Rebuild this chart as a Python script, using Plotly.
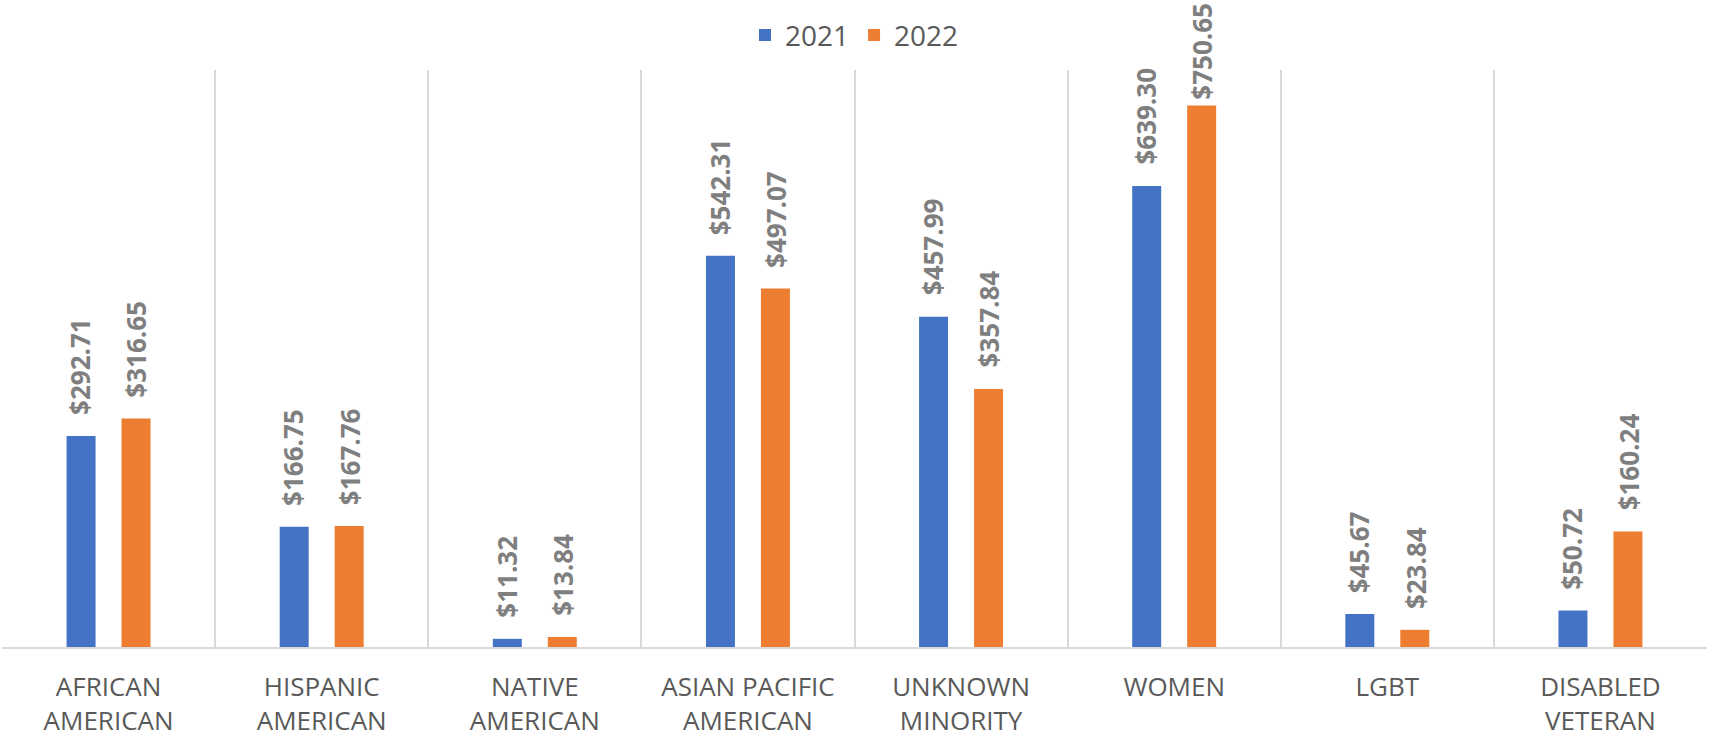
import plotly.graph_objects as go

categories = ["AFRICAN<br>AMERICAN", "HISPANIC<br>AMERICAN", "NATIVE<br>AMERICAN",
              "ASIAN PACIFIC<br>AMERICAN", "UNKNOWN<br>MINORITY", "WOMEN", "LGBT",
              "DISABLED<br>VETERAN"]
series_names = ["2021", "2022"]
values_2021 = [292.71, 166.75, 11.32, 542.31, 457.99, 639.30, 45.67, 50.72]
values_2022 = [316.65, 167.76, 13.84, 497.07, 357.84, 750.65, 23.84, 160.24]

colors = ["#4472C4", "#ED7D31"]
bar_width = 0.136
offsets = [-0.197, 0.061]
label_xshift = [-28, 28]

Y_MAX = 800
TOP_MARGIN = 70
PLOT_H = 740 - 70 - 93
LABEL_LEN = 100

fig = go.Figure()
for name, vals, col, off in zip(series_names, [values_2021, values_2022], colors, offsets):
    fig.add_trace(go.Bar(
        x=categories, y=vals, name=name,
        marker=dict(color=col, line=dict(width=0)),
        width=bar_width, offset=off,
    ))

annotations = []
for vals, xs in zip([values_2021, values_2022], label_xshift):
    for c, v in zip(categories, vals):
        room = (Y_MAX - v) / Y_MAX * PLOT_H + TOP_MARGIN - LABEL_LEN - 2
        annotations.append(dict(
            x=c, y=v, xref="x", yref="y", text=f"${v:,.2f}",
            textangle=-90, showarrow=False, xanchor="center", yanchor="bottom",
            xshift=xs, yshift=min(19, room),
            font=dict(family="Open Sans", size=26, color="#7F7F7F", weight="bold"),
        ))

fig.update_layout(
    width=1709, height=740,
    margin=dict(l=2, r=2, t=TOP_MARGIN, b=93, autoexpand=False),
    paper_bgcolor="white", plot_bgcolor="white",
    barmode="group",
    showlegend=True,
    legend=dict(orientation="h", x=0.5, xanchor="center", y=1.06, yanchor="middle",
                font=dict(family="Open Sans", size=28, color="#595959"),
                itemwidth=30, traceorder="normal"),
    annotations=annotations,
    font=dict(family="Open Sans"),
)
fig.update_xaxes(
    type="category", tickson="boundaries", showgrid=True, gridcolor="#D9D9D9", gridwidth=1.5,
    showline=True, linecolor="#D9D9D9", linewidth=1.5, ticks="", range=[-0.5, 7.5],
    tickfont=dict(family="Open Sans", size=26, color="#595959"),
    ticklabelstandoff=16, automargin=False,
)
fig.update_yaxes(range=[0, Y_MAX], showgrid=False, zeroline=False, showticklabels=False, ticks="")

fig.write_html("out.html", config={"displayModeBar": False},
               post_script="document.body.style.margin='0';document.body.style.overflow='hidden';")
